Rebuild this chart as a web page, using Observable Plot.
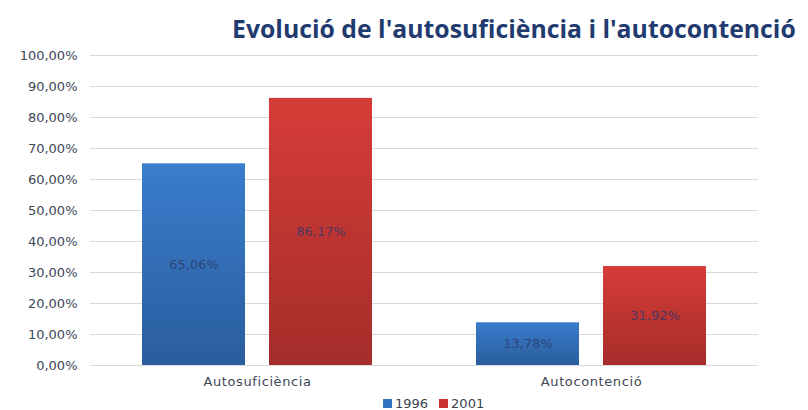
<!DOCTYPE html>
<html><head><meta charset="utf-8">
<script src="https://cdn.jsdelivr.net/npm/d3@7"></script>
<script src="https://cdn.jsdelivr.net/npm/@observablehq/plot@0.6"></script>
<style>
body{margin:0;background:#fff;width:808px;height:410px;overflow:hidden;position:relative;font-family:"DejaVu Sans",sans-serif;}
#title{position:absolute;left:232px;top:13px;font-family:"Open Sans",sans-serif;font-weight:700;font-size:24.8px;line-height:30px;color:#1f3b6f;white-space:nowrap;}
#chart{position:absolute;left:0;top:45px;}
#legend{position:absolute;left:383px;top:396px;font-size:13px;color:#3a4250;display:flex;align-items:center;gap:3px;}
.sw{display:inline-block;width:9px;height:9px;}
</style></head>
<body>
<div id="title">Evolució de l'autosuficiència i l'autocontenció</div>
<div id="chart"></div>
<div id="legend"></div>
<script>
const categories = ["Autosuficiència", "Autocontenció"];
const years = ["1996", "2001"];
const values1996 = [65.06, 13.78];
const values2001 = [86.17, 31.92];
const yTicks = [0, 10, 20, 30, 40, 50, 60, 70, 80, 90, 100];
const seriesColors = {"1996": "#3272c2", "2001": "#c9332f"};

const data = [];
categories.forEach((c, i) => {
  data.push({cat: c, year: "1996", value: values1996[i]});
  data.push({cat: c, year: "2001", value: values2001[i]});
});
const fmt = v => v.toFixed(2).replace(".", ",") + "%";

const plot = Plot.plot({
  width: 808,
  height: 350,
  marginTop: 10,
  marginBottom: 30,
  marginLeft: 90,
  marginRight: 50,
  style: {fontFamily: "DejaVu Sans, sans-serif", fontSize: "13px", color: "#3d4758", background: "white"},
  fx: {domain: categories, padding: 0, axis: "bottom", label: null, tickSize: 0, tickPadding: 11},
  x: {domain: years, paddingInner: 0.1875, paddingOuter: 0.4, axis: null},
  y: {domain: [0, 100], ticks: yTicks, tickFormat: fmt, tickSize: 0, tickPadding: 13, label: null, grid: true},
  marks: [
    Plot.barY(data, {fx: "cat", x: "year", y: "value", fill: d => d.year === "1996" ? "url(#gBlue)" : "url(#gRed)"}),
    Plot.text(data, {fx: "cat", x: "year", y: d => d.value / 2, text: d => fmt(d.value), fill: "#2c3a6a", fillOpacity: 0.8, fontSize: 13})
  ]
});

const svg = d3.select(plot);
svg.selectAll("[aria-label='y-grid'] line, [aria-label='y-grid'] path").attr("stroke", "#d9d9d9").attr("stroke-opacity", 1);
svg.selectAll("[aria-label='fx-axis tick label'] text, [aria-label='fx-axis tick label']").style("letter-spacing", "0.6px");
const defs = svg.insert("defs", ":first-child");
function grad(id, top, bottom) {
  const g = defs.append("linearGradient").attr("id", id).attr("x1", 0).attr("y1", 0).attr("x2", 0).attr("y2", 1);
  g.append("stop").attr("offset", "0%").attr("stop-color", top);
  g.append("stop").attr("offset", "100%").attr("stop-color", bottom);
}
grad("gBlue", "#3a7dcc", "#2a5d9e");
grad("gRed", "#d63c38", "#a52d2a");
document.getElementById("chart").appendChild(plot);

const lg = d3.select("#legend");
years.forEach((y, i) => {
  lg.append("span").attr("class", "sw").style("background", seriesColors[y]).style("margin-left", i ? "8px" : "0");
  lg.append("span").text(y);
});
</script>
</body></html>
